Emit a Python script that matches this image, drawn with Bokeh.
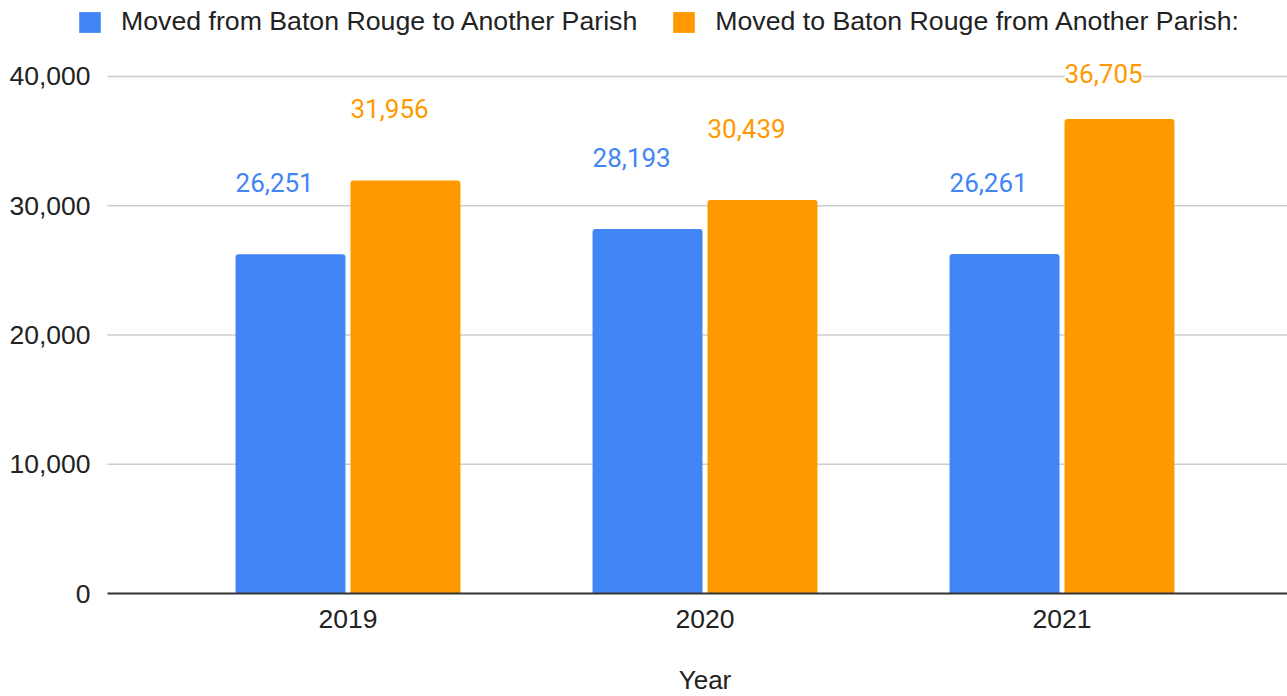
from bokeh.plotting import figure
from bokeh.models import (ColumnDataSource, Range1d, FixedTicker, NumeralTickFormatter,
                          Legend, LegendItem, LinearAxis, Label)
from bokeh.transform import dodge
from bokeh.core.properties import value
from bokeh.embed import file_html
from bokeh.resources import INLINE

# ---- data ----
years = ["2019", "2020", "2021"]
moved_out = [26251, 28193, 26261]
moved_in = [31956, 30439, 36705]
series_labels = ["Moved from Baton Rouge to Another Parish",
                 "Moved to Baton Rouge from Another Parish:"]
y_ticks = [0, 10000, 20000, 30000, 40000]
x_title = "Year"

# ---- style ----
BLUE = "#4285F4"
ORANGE = "#FF9900"
TEXT = "#222222"
FONT = "Liberation Sans"
LABEL_FONT = "Roboto"
FS = "26px"
TICK_FS = "26.5px"
LEGEND_FS = "26.7px"
BAR_W = 0.308
DODGE = 0.161
X_START, X_END = -0.9734, 2.6317   # full-width frame
AREA_LEFT = -0.6737                # left edge of the chart area (axis position)
Y_START, Y_END = -7969, 45880      # frame covers the whole canvas
LABEL_GAP = 5570      # annotation distance above bar top (data units)
LABEL_CAP = 40230     # annotations are kept inside the chart area


def label_pos(vals):
    return [min(v + LABEL_GAP, LABEL_CAP) for v in vals]


idx = list(range(len(years)))
src = ColumnDataSource(dict(
    x=idx,
    out=moved_out,
    inn=moved_in,
    out_y=label_pos(moved_out),
    in_y=label_pos(moved_in),
    out_lbl=[f"{v:,}" for v in moved_out],
    in_lbl=[f"{v:,}" for v in moved_in],
))
grid_src = ColumnDataSource(dict(y=y_ticks[1:]))

p = figure(width=1287, height=696, output_backend="svg", toolbar_location=None,
           x_range=Range1d(X_START, X_END), y_range=Range1d(Y_START, Y_END),
           x_axis_location=None, y_axis_location=None,
           min_border_left=0, min_border_right=0, min_border_top=0,
           min_border_bottom=0)
p.outline_line_color = None
p.background_fill_color = "white"
p.xgrid.visible = False
p.ygrid.visible = False

# horizontal gridlines across the chart area
p.segment(x0=AREA_LEFT, x1=X_END, y0="y", y1="y", source=grid_src,
          line_color="#cccccc", line_width=1.6, level="underlay")

r1 = p.vbar(x=dodge("x", -DODGE), top="out", width=BAR_W, source=src,
            fill_color=BLUE, line_color=None, border_radius=(3, 3, 0, 0))
r2 = p.vbar(x=dodge("x", DODGE), top="inn", width=BAR_W, source=src,
            fill_color=ORANGE, line_color=None, border_radius=(3, 3, 0, 0))

p.text(x=dodge("x", -DODGE - BAR_W / 2), y="out_y", text="out_lbl", source=src,
       text_align="left", text_baseline="middle",
       text_font=value(LABEL_FONT), text_font_size=FS, text_color=BLUE,
       background_fill_color="white")
p.text(x=dodge("x", DODGE - BAR_W / 2), y="in_y", text="in_lbl", source=src,
       text_align="left", text_baseline="middle",
       text_font=value(LABEL_FONT), text_font_size=FS, text_color=ORANGE,
       background_fill_color="white")

# x axis fixed at the baseline
xaxis = LinearAxis(fixed_location=0, ticker=FixedTicker(ticks=idx),
                   major_label_overrides={i: y for i, y in enumerate(years)},
                   bounds=(AREA_LEFT, X_END),
                   axis_line_color="#333333", axis_line_width=2,
                   major_tick_line_color=None, minor_tick_line_color=None,
                   major_label_standoff=10,
                   major_label_text_font=FONT, major_label_text_font_size=TICK_FS,
                   major_label_text_color=TEXT)
p.add_layout(xaxis, "below")

# x axis title, centred over the categories
p.add_layout(Label(x=(idx[0] + idx[-1]) / 2, y=17, x_units="data", y_units="screen",
                   text=x_title, text_align="center", text_baseline="middle",
                   text_font=FONT, text_font_size=FS, text_color=TEXT))

# y axis fixed at the chart-area edge
yaxis = LinearAxis(fixed_location=AREA_LEFT,
                   ticker=FixedTicker(ticks=y_ticks),
                   formatter=NumeralTickFormatter(format="0,0"),
                   axis_line_color=None, major_tick_line_color=None,
                   minor_tick_line_color=None, major_label_standoff=11,
                   major_label_text_font=FONT, major_label_text_font_size=TICK_FS,
                   major_label_text_color=TEXT)
p.add_layout(yaxis, "left")

legend = Legend(items=[LegendItem(label=series_labels[0], renderers=[r1]),
                       LegendItem(label=series_labels[1], renderers=[r2])],
                orientation="horizontal", location=(76, 659),
                glyph_width=27, glyph_height=26, label_standoff=18, spacing=33,
                padding=0, margin=0, border_line_color=None,
                background_fill_alpha=0, label_height=26,
                label_text_font=FONT, label_text_font_size=LEGEND_FS,
                label_text_color=TEXT)
p.add_layout(legend)

open("out.html", "w").write(file_html(p, INLINE))
